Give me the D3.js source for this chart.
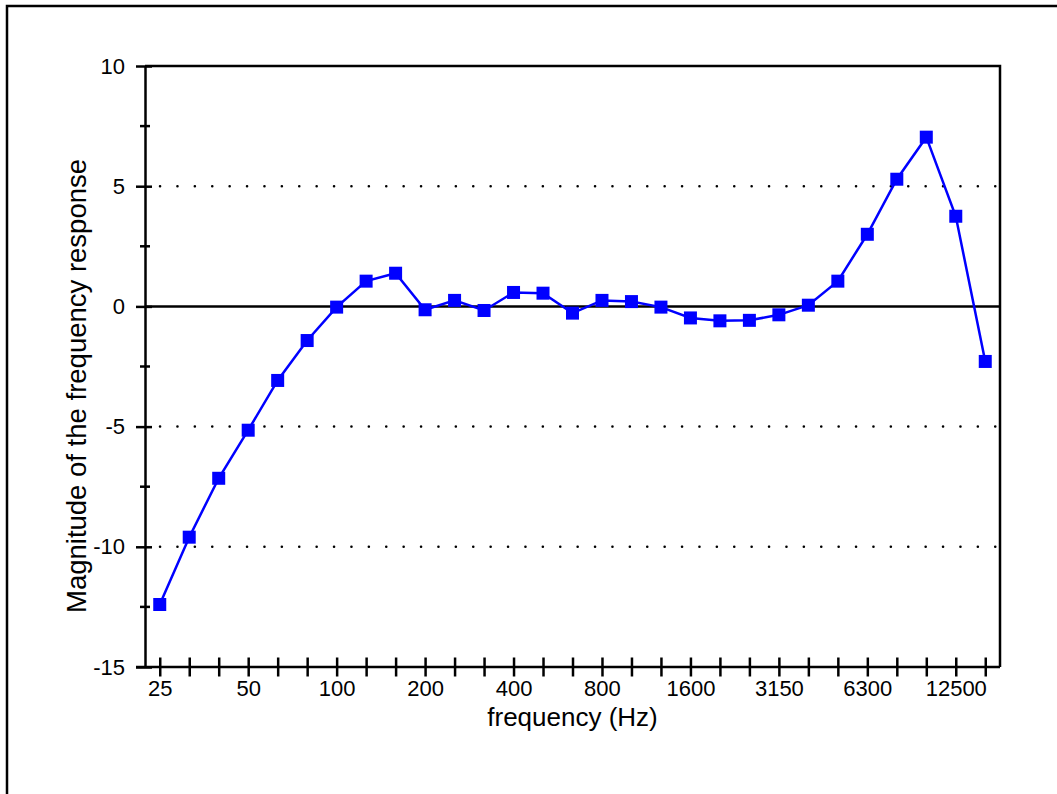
<!DOCTYPE html>
<html>
<head>
<meta charset="utf-8">
<script src="https://cdn.jsdelivr.net/npm/d3@7"></script>
<style>
    body { margin: 0; background: #fff; }
    text { font-family: "Liberation Sans", Arial, sans-serif; fill: #000; }
</style>
</head>
<body>
<div id="chart"></div>
<script>
// 1/3 octave bands (Hz)
const bands = ["25", "31.5", "40", "50", "63", "80", "100", "125", "160", "200",
    "250", "315", "400", "500", "630", "800", "1000", "1250", "1600", "2000",
    "2500", "3150", "4000", "5000", "6300", "8000", "10000", "12500", "16000"];
// magnitude of the frequency response per band
const magnitude = [-12.4, -9.6, -7.15, -5.15, -3.08, -1.42, -0.03, 1.05, 1.38, -0.14,
    0.25, -0.17, 0.58, 0.55, -0.28, 0.25, 0.2, -0.03, -0.48, -0.6,
    -0.58, -0.35, 0.05, 1.05, 3.0, 5.29, 7.04, 3.75, -2.29];
const xTickLabels = ["25", "50", "100", "200", "400", "800", "1600", "3150", "6300", "12500"];
const yTicks = [-15, -10, -5, 0, 5, 10];
const yMinorTicks = [-12.5, -7.5, -2.5, 2.5, 7.5];
const gridValues = [-10, -5, 5];

const W = 1057, H = 794;
const margin = {top: 66, right: 57, bottom: 127, left: 145};
const width = W - margin.left - margin.right,
    height = H - margin.top - margin.bottom;

const svg = d3.select("#chart")
    .append("svg")
    .attr("width", W)
    .attr("height", H);

// outer frame (only left and top edges are visible)
svg.append("rect")
    .attr("x", 7).attr("y", 6)
    .attr("width", W + 20).attr("height", H + 20)
    .attr("fill", "none")
    .attr("stroke", "#000")
    .attr("stroke-width", 2.5);

const g = svg.append("g")
    .attr("transform", `translate(${margin.left}, ${margin.top})`);

const x = d3.scalePoint()
    .domain(bands)
    .range([0, width])
    .padding(0.5);

const y = d3.scaleLinear()
    .domain([-15, 10])
    .range([height, 0]);

// dotted grid lines
g.selectAll(".grid")
    .data(gridValues)
    .join("line")
    .attr("x1", 15).attr("x2", width)
    .attr("y1", d => y(d)).attr("y2", d => y(d))
    .attr("stroke", "#000")
    .attr("stroke-width", 2.5)
    .attr("stroke-linecap", "round")
    .attr("stroke-dasharray", "0.1,17.3");

// zero line
g.append("line")
    .attr("x1", 0).attr("x2", width)
    .attr("y1", y(0)).attr("y2", y(0))
    .attr("stroke", "#000")
    .attr("stroke-width", 2.5);

// frame of the plot: top and right edges
g.append("path")
    .attr("d", `M0,0H${width}V${height}`)
    .attr("fill", "none")
    .attr("stroke", "#000")
    .attr("stroke-width", 2.5);

// left axis
const yAxis = g.append("g")
    .call(d3.axisLeft(y)
        .tickValues(yTicks)
        .tickFormat(d => String(d))
        .tickSize(9)
        .tickSizeOuter(0)
        .tickPadding(11))
    .attr("font-size", 22)
    .attr("font-family", "'Liberation Sans', Arial, sans-serif");
yAxis.select(".domain").attr("stroke-width", 2.5);
yAxis.selectAll(".tick line")
    .attr("x2", -9).attr("x1", 7)
    .attr("stroke-width", 2.5);

g.selectAll(".yminor")
    .data(yMinorTicks)
    .join("line")
    .attr("x1", -5).attr("x2", 5)
    .attr("y1", d => y(d)).attr("y2", d => y(d))
    .attr("stroke", "#000")
    .attr("stroke-width", 2.5);

// bottom axis
const xAxis = g.append("g")
    .attr("transform", `translate(0, ${height})`)
    .call(d3.axisBottom(x)
        .tickSize(9)
        .tickSizeOuter(0)
        .tickPadding(6)
        .tickFormat(d => xTickLabels.includes(d) ? d : ""))
    .attr("font-size", 22)
    .attr("font-family", "'Liberation Sans', Arial, sans-serif");
xAxis.select(".domain")
    .attr("d", `M-9,0H${width}`)
    .attr("stroke-width", 2.5);
xAxis.selectAll(".tick line")
    .attr("y1", -9.5).attr("y2", 9.5)
    .attr("stroke-width", 2.5);
xAxis.selectAll(".tick text")
    .attr("y", 13)
    .attr("dy", "0.71em");

// axis titles
g.append("text")
    .attr("x", width / 2)
    .attr("y", height + 59)
    .attr("text-anchor", "middle")
    .style("font-size", "26px")
    .text("frequency (Hz)");

g.append("text")
    .attr("transform", `translate(${86 - margin.left}, ${386 - margin.top}) rotate(-90)`)
    .attr("text-anchor", "middle")
    .style("font-size", "27.5px")
    .text("Magnitude of the frequency response");

// the data line
const line = d3.line()
    .x((d, i) => x(bands[i]))
    .y(d => y(d));

g.append("path")
    .datum(magnitude)
    .attr("d", line)
    .attr("fill", "none")
    .attr("stroke", "#0000ff")
    .attr("stroke-width", 2.5);

const ms = 13;
g.selectAll(".marker")
    .data(magnitude)
    .join("rect")
    .attr("x", (d, i) => x(bands[i]) - ms / 2)
    .attr("y", d => y(d) - ms / 2)
    .attr("width", ms)
    .attr("height", ms)
    .attr("fill", "#0000ff");
</script>
</body>
</html>
